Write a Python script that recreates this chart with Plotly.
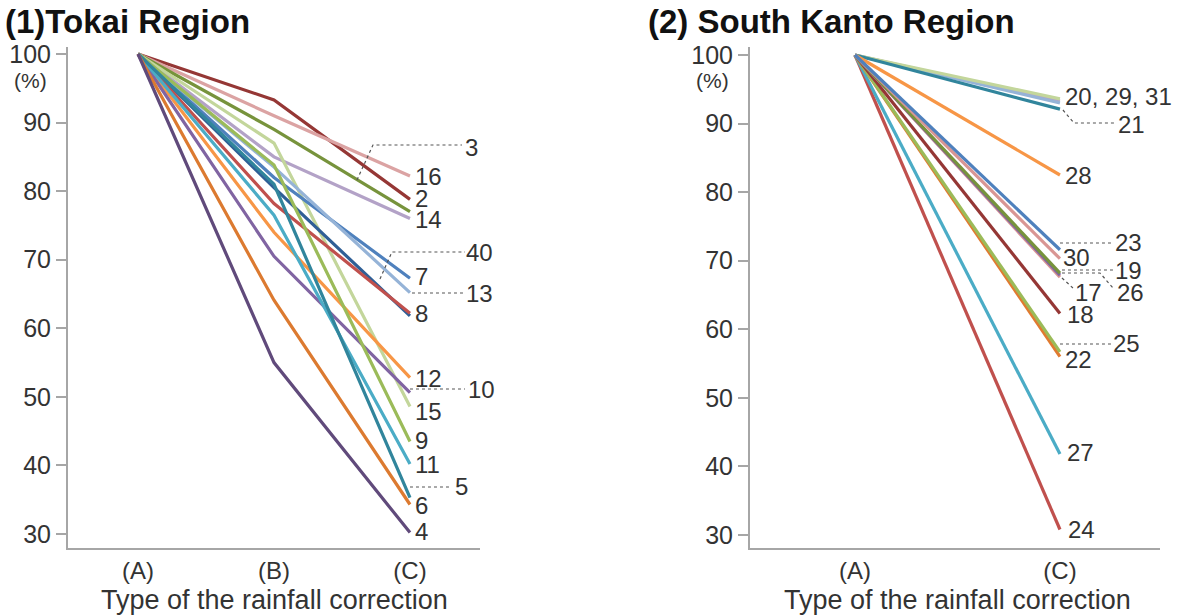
import plotly.graph_objects as go

# ---------------- data ----------------
# (1) Tokai: ratio (%) for correction types (A), (B), (C)
tokai_ids = ["2", "16", "3", "14", "15", "7", "13", "40", "8", "12", "10", "9", "11", "5", "6", "4"]
tokai_a = [100] * 16
tokai_b = [93.3, 91.0, 89.0, 85.0, 87.0, 82.0, 83.5, 80.5, 78.2, 74.0, 70.5, 83.8, 76.5, 81.0, 64.1, 55.0]
tokai_c = [78.8, 82.2, 77.0, 76.0, 48.6, 67.3, 65.2, 61.8, 62.2, 52.8, 50.6, 43.5, 40.2, 35.3, 34.3, 30.2]
tokai_colors = ["#953735", "#dba3a3", "#77933c", "#b3a2c7", "#c3d69b", "#4f81bd", "#95b3d7", "#2f5f96",
                "#c0504d", "#f79646", "#8064a2", "#9bbb59", "#4bacc6", "#31859c", "#dc7a30", "#604a7b"]

# (2) South Kanto: ratio (%) for correction types (A), (C)
kanto_ids = ["29", "31", "20", "21", "28", "24", "27", "22", "25", "18", "26", "17", "19", "30", "23"]
kanto_a = [100] * 15
kanto_c = [93.3, 93.0, 93.6, 92.1, 82.5, 30.8, 41.8, 56.0, 56.7, 62.3, 67.6, 67.9, 68.2, 70.3, 71.6]
kanto_colors = ["#b3a2c7", "#95b3d7", "#c3d69b", "#31859c", "#f79646", "#c0504d", "#4bacc6", "#e07a30",
                "#9bbb59", "#953735", "#d99694", "#8064a2", "#77933c", "#d99694", "#4f81bd"]

tokai_types = ["(A)", "(B)", "(C)"]
kanto_types = ["(A)", "(C)"]
y_ticks = [30, 40, 50, 60, 70, 80, 90, 100]

# end-of-line labels: (text, label level in %, horizontal offset in px)
tokai_labels = [("3", 86.4, 54), ("16", 82.1, 4), ("2", 79.0, 4), ("14", 75.8, 4), ("40", 71.1, 55),
                ("7", 67.5, 4), ("13", 65.1, 55), ("8", 62.2, 4), ("12", 52.7, 4), ("10", 51.0, 57),
                ("15", 47.8, 4), ("9", 43.7, 4), ("11", 40.2, 4), ("5", 36.9, 44), ("6", 34.2, 4),
                ("4", 30.4, 4)]
kanto_labels = [("20, 29, 31", 93.9, 4), ("21", 89.9, 57), ("28", 82.5, 4), ("23", 72.6, 54),
                ("30", 70.4, 2), ("19", 68.6, 54), ("17", 65.4, 14), ("26", 65.3, 56), ("18", 62.1, 6),
                ("25", 57.9, 52), ("22", 55.6, 4), ("27", 42.0, 6), ("24", 30.8, 7)]

# ---------------- layout constants ----------------
W, H = 1189, 616
FONT = "Liberation Sans, Arial, sans-serif"
TXT = "#333333"
AX = "#a6a6a6"
PX_PER_UNIT = 6.857          # vertical px per 1 %
L_DOM = [68 / W, 480 / W]
R_DOM = [750 / W, 1160 / W]
Y_DOM = [1 - 548 / H, 1 - 47 / H]
L_XR = [-0.515, 2.515]
R_XR = [-0.512, 1.488]
L_YR = [100 - (548 - 54) / PX_PER_UNIT, 100 + 7 / PX_PER_UNIT]
R_YR = [100 - (548 - 55) / PX_PER_UNIT, 100 + 8 / PX_PER_UNIT]
L_PX = (L_DOM[1] - L_DOM[0]) * W / (L_XR[1] - L_XR[0])   # px per category step
R_PX = (R_DOM[1] - R_DOM[0]) * W / (R_XR[1] - R_XR[0])

fig = go.Figure()

for i, sid in enumerate(tokai_ids):
    fig.add_trace(go.Scatter(
        x=[0, 1, 2], y=[tokai_a[i], tokai_b[i], tokai_c[i]], mode="lines", name=sid,
        line=dict(color=tokai_colors[i], width=3.2), xaxis="x", yaxis="y", hoverinfo="name+y"))

for i, sid in enumerate(kanto_ids):
    fig.add_trace(go.Scatter(
        x=[0, 1], y=[kanto_a[i], kanto_c[i]], mode="lines", name=sid,
        line=dict(color=kanto_colors[i], width=3.2), xaxis="x2", yaxis="y2", hoverinfo="name+y"))

annotations = []
for text, lvl, dx in tokai_labels:
    annotations.append(dict(x=2, y=lvl, xref="x", yref="y", text=text, showarrow=False,
                            xanchor="left", yanchor="middle", xshift=dx, borderpad=0,
                            font=dict(family=FONT, size=24, color=TXT)))
for text, lvl, dx in kanto_labels:
    annotations.append(dict(x=1, y=lvl, xref="x2", yref="y2", text=text, showarrow=False,
                            xanchor="left", yanchor="middle", xshift=dx, borderpad=0,
                            font=dict(family=FONT, size=24, color=TXT)))


def px_to_val(py, top):
    return 100 - (py - top) / PX_PER_UNIT


# dotted leader lines, given in px offsets from the (C) end point
def leader(points, xref, yref, x_end, ppu, top):
    path = []
    for k, (dx, py) in enumerate(points):
        xv = x_end + dx / ppu
        yv = px_to_val(py, top)
        path.append(("M" if k == 0 else "L") + f"{xv},{yv}")
    return dict(type="path", path=" ".join(path), xref=xref, yref=yref,
                line=dict(color="#555555", width=1.2, dash="dot"))


shapes = [
    leader([(-53, 180), (-37, 145), (52, 145)], "x", "y", 2, L_PX, 54),
    leader([(-30, 279), (-18, 252), (55, 252)], "x", "y", 2, L_PX, 54),
    leader([(2, 293), (53, 293)], "x", "y", 2, L_PX, 54),
    leader([(0, 389), (55, 389)], "x", "y", 2, L_PX, 54),
    leader([(0, 487), (42, 487)], "x", "y", 2, L_PX, 54),
    leader([(3, 110), (14, 123), (55, 123)], "x2", "y2", 1, R_PX, 55),
    leader([(0, 243), (52, 243)], "x2", "y2", 1, R_PX, 55),
    leader([(2, 270), (53, 270)], "x2", "y2", 1, R_PX, 55),
    leader([(2, 273), (40, 273), (54, 289)], "x2", "y2", 1, R_PX, 55),
    leader([(2, 278), (13, 288)], "x2", "y2", 1, R_PX, 55),
    leader([(0, 344), (51, 344)], "x2", "y2", 1, R_PX, 55),
]

# panel titles, unit marks and axis titles
annotations += [
    dict(x=3 / W, y=1 - 22 / H, xref="paper", yref="paper", text="<b>(1)Tokai Region</b>",
         showarrow=False, xanchor="left", yanchor="middle",
         font=dict(family=FONT, size=33, color="#111111")),
    dict(x=646 / W, y=1 - 22 / H, xref="paper", yref="paper", text="<b>(2) South Kanto Region</b>",
         showarrow=False, xanchor="left", yanchor="middle",
         font=dict(family=FONT, size=33, color="#111111")),
    dict(x=30 / W, y=1 - 80 / H, xref="paper", yref="paper", text="(%)", showarrow=False,
         xanchor="center", yanchor="middle", font=dict(family=FONT, size=21, color=TXT)),
    dict(x=712 / W, y=1 - 80 / H, xref="paper", yref="paper", text="(%)", showarrow=False,
         xanchor="center", yanchor="middle", font=dict(family=FONT, size=21, color=TXT)),
    dict(x=(L_DOM[0] + L_DOM[1]) / 2, y=1 - 600 / H, xref="paper", yref="paper",
         text="Type of the rainfall correction", showarrow=False, xanchor="center",
         yanchor="middle", font=dict(family=FONT, size=27, color=TXT)),
    dict(x=(R_DOM[0] + R_DOM[1]) / 2 + 3 / W, y=1 - 600 / H, xref="paper", yref="paper",
         text="Type of the rainfall correction", showarrow=False, xanchor="center",
         yanchor="middle", font=dict(family=FONT, size=27, color=TXT)),
]

xcommon = dict(showgrid=False, zeroline=False, showline=True, linecolor=AX, linewidth=2,
               ticks="", tickfont=dict(family=FONT, size=24, color=TXT),
               tickmode="array", fixedrange=True, automargin=False)
ycommon = dict(showgrid=False, zeroline=False, showline=True, linecolor=AX, linewidth=2,
               ticks="outside", ticklen=10, tickwidth=1.5, tickcolor=AX,
               tickfont=dict(family=FONT, size=25, color=TXT), tickvals=y_ticks,
               fixedrange=True, automargin=False)

fig.update_layout(
    width=W, height=H,
    margin=dict(l=0, r=0, t=0, b=0, pad=0),
    paper_bgcolor="white", plot_bgcolor="white",
    showlegend=False,
    xaxis=dict(domain=L_DOM, range=L_XR, tickvals=[0, 1, 2], ticktext=tokai_types,
               anchor="y", **xcommon),
    yaxis=dict(domain=Y_DOM, range=L_YR, anchor="x", **ycommon),
    xaxis2=dict(domain=R_DOM, range=R_XR, tickvals=[0, 1], ticktext=kanto_types,
                anchor="y2", **xcommon),
    yaxis2=dict(domain=Y_DOM, range=R_YR, anchor="x2", **ycommon),
    annotations=annotations,
    shapes=shapes,
)

fig.write_html("out.html")
